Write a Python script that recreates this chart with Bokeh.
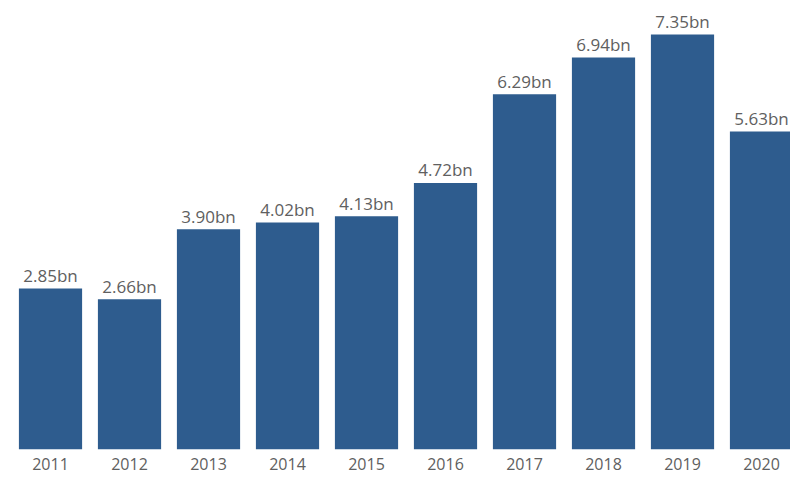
from bokeh.plotting import figure
from bokeh.models import ColumnDataSource, FixedTicker, Range1d
from bokeh.core.properties import value
from bokeh.embed import file_html
from bokeh.resources import INLINE

years = ["2011", "2012", "2013", "2014", "2015", "2016", "2017", "2018", "2019", "2020"]
revenue = [2.85, 2.66, 3.90, 4.02, 4.13, 4.72, 6.29, 6.94, 7.35, 5.63]
labels = ["2.85bn", "2.66bn", "3.90bn", "4.02bn", "4.13bn", "4.72bn", "6.29bn", "6.94bn", "7.35bn", "5.63bn"]

idx = list(range(len(years)))
src = ColumnDataSource(dict(x=idx, top=revenue, label=labels))

p = figure(width=790, height=480, output_backend="svg", toolbar_location=None,
           x_range=Range1d(-0.633, 9.367), y_range=Range1d(0, 7.95),
           min_border_left=0, min_border_right=0, min_border_top=0, min_border_bottom=31)
p.vbar(x="x", top="top", width=0.8, source=src, fill_color="#2e5c8e", line_color=None)
p.text(x="x", y="top", text="label", source=src, text_align="center",
       text_baseline="alphabetic", y_offset=-13, text_font=value("Open Sans"),
       text_font_size="17px", text_color="#606060")

p.yaxis.visible = False
p.xgrid.visible = False
p.ygrid.visible = False
p.outline_line_color = None
ax = p.xaxis[0]
ax.ticker = FixedTicker(ticks=idx)
ax.major_label_overrides = {i: y for i, y in zip(idx, years)}
ax.axis_line_color = None
ax.major_tick_line_color = None
ax.minor_tick_line_color = None
ax.major_tick_out = 0
ax.major_tick_in = 0
ax.major_label_standoff = 8
ax.major_label_text_font = "Open Sans"
ax.major_label_text_font_size = "16px"
ax.major_label_text_color = "#606060"

open("out.html", "w").write(file_html(p, INLINE))
